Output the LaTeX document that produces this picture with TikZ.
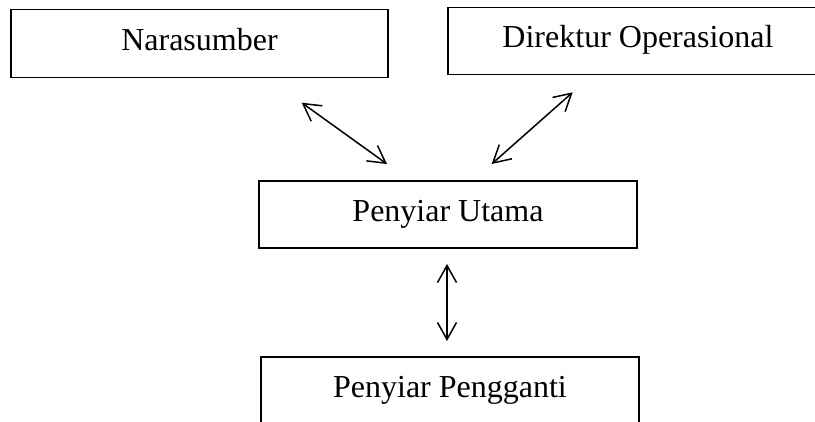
\documentclass[tikz,border=0pt]{standalone}
\usepackage{fontspec}
\setmainfont{Liberation Serif}
\usetikzlibrary{arrows.meta}
\tikzset{
  orgbox/.style={draw=black, line width=1.2pt, rectangle, inner sep=0pt,
    minimum height=67pt, text height=22pt, text depth=8pt,
    font=\fontsize{32}{38}\selectfont, align=center},
  biarrow/.style={line width=1.5pt, {Straight Barb[length=17pt,width=19pt]}-{Straight Barb[length=17pt,width=19pt]}}
}
\begin{document}
\begin{tikzpicture}[x=1pt,y=-1pt]
\clip (0,0) rectangle (815,422);
\fill[white] (0,0) rectangle (815,422);
\node[orgbox, minimum width=377pt, minimum height=68pt] (nara) at (199.5,43.2) {Narasumber};
\node[orgbox, minimum width=380pt] (dir) at (638,40.7) {Direktur Operasional};
\node[orgbox, minimum width=378pt] (utama) at (448,214.5) {Penyiar Utama};
\node[orgbox, minimum width=378pt] (ganti) at (450,390.5) {Penyiar Pengganti};
\coordinate (a1s) at (301.7,102.7);
\coordinate (a1e) at (387,164);
\coordinate (a2s) at (572.7,92.3);
\coordinate (a2e) at (491.7,164);
\coordinate (a3s) at (447,264);
\coordinate (a3e) at (447,341);
\draw[biarrow] (a1s) -- (a1e);
\draw[biarrow] (a2s) -- (a2e);
\draw[biarrow] (a3s) -- (a3e);
\end{tikzpicture}
\end{document}
